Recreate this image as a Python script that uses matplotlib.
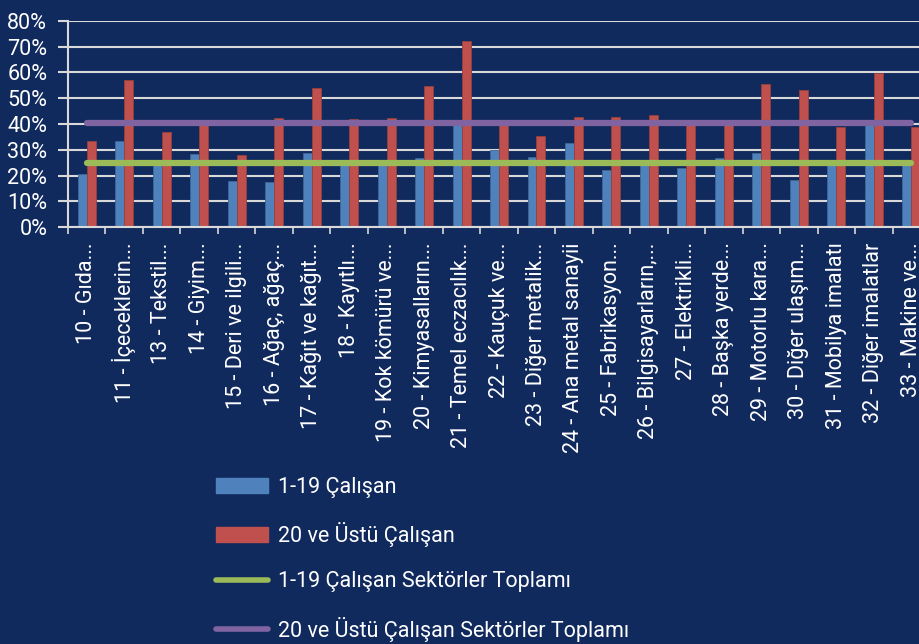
import matplotlib
matplotlib.use("Agg")
import matplotlib.pyplot as plt
import numpy as np
from matplotlib.patches import Patch
from matplotlib.lines import Line2D

plt.rcParams['font.family'] = ['Roboto', 'DejaVu Sans']

# Sektörler (NACE 10-33)
sektorler = ["10 - Gıda...", "11 - İçeceklerin...", "13 - Tekstil...", "14 - Giyim...",
             "15 - Deri ve ilgili...", "16 - Ağaç, ağaç...", "17 - Kağıt ve kağıt...",
             "18 - Kayıtlı...", "19 - Kok kömürü ve...", "20 - Kimyasalların...",
             "21 - Temel eczacılık...", "22 - Kauçuk ve...", "23 - Diğer metalik...",
             "24 - Ana metal sanayii", "25 - Fabrikasyon...", "26 - Bilgisayarların,...",
             "27 - Elektrikli...", "28 - Başka yerde...", "29 - Motorlu kara...",
             "30 - Diğer ulaşım...", "31 - Mobilya imalatı", "32 - Diğer imalatlar",
             "33 - Makine ve..."]

# oranlar (%)
kucuk = [20.6, 33.3, 24.5, 28.5, 18.0, 17.6, 28.6, 24.0, 24.0, 26.7, 39.6, 29.9,
         27.2, 32.6, 22.0, 24.0, 22.9, 26.9, 28.6, 18.1, 24.5, 39.5, 24.0]
buyuk = [33.4, 57.0, 36.8, 39.6, 28.0, 42.5, 54.0, 41.8, 42.3, 54.6, 72.2, 40.5,
         35.2, 42.6, 42.6, 43.4, 39.5, 41.5, 55.5, 53.2, 38.7, 59.8, 38.8]
kucuk_toplam = 24.9
buyuk_toplam = 40.5

arka = "#112A5E"
mavi = "#4F81BD"
kirmizi = "#C0504D"
yesil = "#9BBB59"
mor = "#8064A2"
cizgi = "#D9D9D9"
fs = 15.5

fig = plt.figure(figsize=(9.19, 6.44), dpi=100, facecolor=arka)
ax = fig.add_axes([0.074, 0.6475, 0.938, 0.3199], facecolor=arka)

x = np.arange(len(sektorler))
w = 0.24
ax.bar(x - w / 2, np.array(kucuk) / 100, w, color=mavi, edgecolor="#3E6796", linewidth=0.6, zorder=2)
ax.bar(x + w / 2, np.array(buyuk) / 100, w, color=kirmizi, edgecolor="#96403D", linewidth=0.6, zorder=2)
ax.plot(x, [kucuk_toplam / 100] * len(x), color=yesil, lw=4.5, solid_capstyle="round", zorder=3)
ax.plot(x, [buyuk_toplam / 100] * len(x), color=mor, lw=4.5, solid_capstyle="round", zorder=3)

ax.set_xlim(-0.5, len(x) - 0.5)
ax.set_ylim(0, 0.8)
ax.set_yticks(np.arange(0, 0.81, 0.1))
ax.set_yticklabels([f"{int(round(v * 100))}%" for v in np.arange(0, 0.81, 0.1)])
ax.yaxis.grid(True, color=cizgi, lw=1.5, zorder=0)
ax.set_axisbelow(True)

ax.set_xticks(x)
ax.set_xticklabels(sektorler, rotation=90, ha="center", va="top")
ax.set_xticks(np.arange(-0.5, len(x), 1), minor=True)
ax.tick_params(axis="x", which="major", length=0, pad=11, labelsize=fs, labelcolor="white")
ax.tick_params(axis="x", which="minor", length=5, width=1.2, color=cizgi)
ax.tick_params(axis="y", length=7, width=1.5, color=cizgi, pad=8, labelsize=fs, labelcolor="white")

for s in ["top", "right"]:
    ax.spines[s].set_visible(False)
ax.spines["left"].set_color(cizgi)
ax.spines["left"].set_linewidth(1.5)
ax.spines["bottom"].set_color(cizgi)
ax.spines["bottom"].set_linewidth(1.5)

handles = [Patch(color=mavi), Patch(color=kirmizi),
           Line2D([], [], color=yesil, lw=4, solid_capstyle="round"),
           Line2D([], [], color=mor, lw=4, solid_capstyle="round")]
labels = ["1-19 Çalışan", "20 ve Üstü Çalışan",
          "1-19 Çalışan Sektörler Toplamı", "20 ve Üstü Çalışan Sektörler Toplamı"]
leg = fig.legend(handles, labels, loc="upper left", bbox_to_anchor=(0.214, 0.29),
                 frameon=False, fontsize=fs, labelcolor="white", handlelength=2.4,
                 handleheight=0.7, handletextpad=0.47, labelspacing=1.13)

fig.savefig("out.png", dpi=100, facecolor=arka)
